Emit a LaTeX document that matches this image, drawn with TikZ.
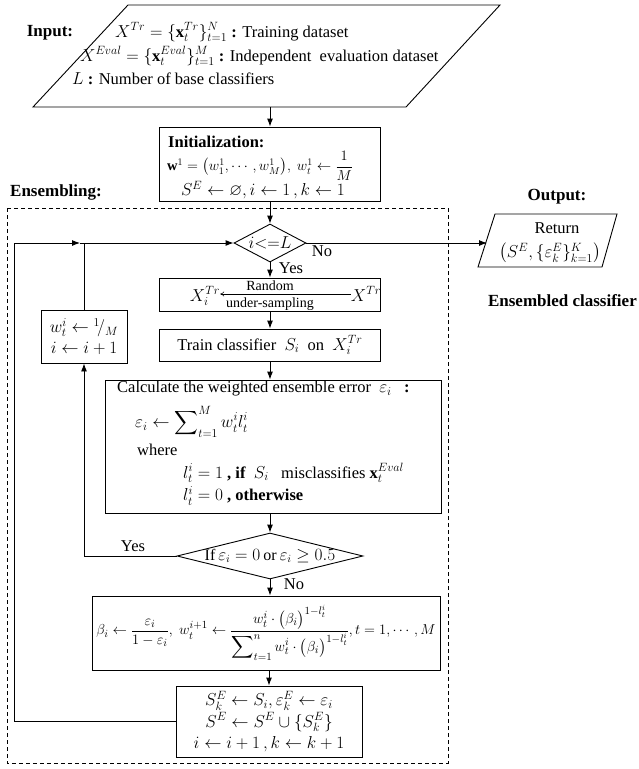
\documentclass[tikz,border=0pt]{standalone}
\usepackage{amsmath,amssymb}
\usepackage{graphicx}
\usepackage{fontspec}
\setmainfont{Liberation Serif}
\usetikzlibrary{arrows.meta,shapes.geometric,calc}
\tikzset{
  boxnode/.style={draw, line width=0.9pt, rectangle, inner sep=0pt},
  dia/.style={draw, line width=0.9pt, diamond, inner sep=0pt},
  conn/.style={line width=0.9pt},
  arr/.style={line width=0.9pt, -{Latex[length=8pt,width=6pt]}},
  txt/.style={inner sep=0pt, font=\fontsize{16.5}{20}\selectfont},
  smalltxt/.style={inner sep=0pt, font=\fontsize{14}{16}\selectfont},
  lbl/.style={inner sep=0pt, font=\bfseries\fontsize{17}{20}\selectfont},
}
\begin{document}
\begin{tikzpicture}[x=1pt,y=-1pt]
\useasboundingbox (0,0) rectangle (638,769);

% ---------- input parallelogram ----------
\coordinate (inTL) at (128,5);
\coordinate (inTR) at (500,5);
\coordinate (inBR) at (406,107);
\coordinate (inBL) at (33,107);
\draw[conn] (inTL) -- (inTR) -- (inBR) -- (inBL) -- cycle;
\coordinate (inBot) at (270,107);
\node[lbl] (inputlbl) at (50,33) {Input:};
\node[txt, anchor=west] (in1) at (115,32) {$X^{Tr}=\{\mathbf{x}_t^{Tr}\}_{t=1}^{N}$ \textbf{:} Training dataset};
\node[txt, anchor=west] (in2) at (80,56) {$X^{Eval}=\{\mathbf{x}_t^{Eval}\}_{t=1}^{M}$ \textbf{:} Independent\ \ evaluation dataset};
\node[txt, anchor=west] (in3) at (72,79) {$L$ \textbf{:} Number of base classifiers};

% ---------- initialization ----------
\node[boxnode, minimum width=221pt, minimum height=74pt] (init) at (270,164) {};
\node[txt, anchor=west, font=\bfseries\fontsize{16.5}{20}\selectfont] (initlbl) at (168,142) {Initialization:};
\node[txt, anchor=west, font=\fontsize{14.5}{18}\selectfont] (init2) at (167,166) {$\mathbf{w}^1=\bigl(w_1^1,\cdots,w_M^1\bigr),\ w_t^1\leftarrow\dfrac{1}{M}$};
\node[txt] (init3) at (263,190) {$S^E\leftarrow\varnothing, i\leftarrow 1\,, k\leftarrow 1$};

% ---------- labels ----------
\node[lbl] (enslbl) at (56,192) {Ensembling:};
\node[lbl] (outlbl) at (557,197) {Output:};
\node[lbl, anchor=east] (enscls) at (637,301) {Ensembled classifier};

% ---------- dashed frame ----------
\draw[line width=0.7pt, dash pattern=on 4pt off 3pt] (7,208) rectangle (448,763);

% ---------- diamond 1 ----------
\node[dia, minimum width=72pt, minimum height=38pt] (d1) at (270,243) {};
\node[txt] (d1t) at (d1) {$i{<=}L$};
\node[txt] (no1) at (322,251) {No};
\node[txt] (yes1) at (291,268) {Yes};

% ---------- output parallelogram ----------
\coordinate (oTL) at (495,214);
\coordinate (oTR) at (617,214);
\coordinate (oBR) at (602,267);
\coordinate (oBL) at (478,267);
\draw[conn] (oTL) -- (oTR) -- (oBR) -- (oBL) -- cycle;
\coordinate (outL) at (487,243);
\node[txt] (ret) at (557,228) {Return};
\node[txt] (retf) at (550,253) {$\left(S^E,\{\varepsilon_k^E\}_{k=1}^{K}\right)$};

% ---------- random under-sampling ----------
\node[boxnode, minimum width=221pt, minimum height=33pt] (rand) at (270,294.5) {};
\node[txt] (rxi) at (205,296) {$X_i^{Tr}$};
\node[txt] (rx) at (366,294) {$X^{Tr}$};
\draw[line width=0.6pt, -{To[length=4pt,width=5pt]}] (rx.west) -- (rxi.east |- rx.west);
\node[smalltxt] (rtop) at (270,286) {Random};
\node[smalltxt] (rbot) at (270,304) {under-sampling};

% ---------- train ----------
\node[boxnode, minimum width=221pt, minimum height=32pt] (train) at (270,345) {};
\node[txt] (traint) at (train) {Train classifier\ \ $S_i$\ \ on\ \ $X_i^{Tr}$};

% ---------- left box ----------
\node[boxnode, minimum width=86pt, minimum height=53pt] (lbox) at (84,336.5) {};
\node[txt, align=center] (lboxt) at (lbox) {$w_t^i\leftarrow{}^1\!/_M$\\[1pt]$i\leftarrow i+1$};

% ---------- calculate ----------
\node[boxnode, minimum width=336pt, minimum height=133pt] (calc) at (273,446.5) {};
\node[txt, anchor=west] (c1) at (117,389) {Calculate the weighted ensemble error\ \ $\varepsilon_i$\ \ \ \textbf{:}};
\node[txt, anchor=west] (c2) at (135,422) {$\varepsilon_i\leftarrow\displaystyle\sum\nolimits_{t=1}^{M}w_t^i l_t^i$};
\node[txt, anchor=west] (c3) at (137,450) {where};
\node[txt, anchor=west] (c4) at (183,473) {$l_t^i=1$\ \textbf{, if}\ \ $S_i$\ \ \ misclassifies\ $\mathbf{x}_t^{Eval}$};
\node[txt, anchor=west] (c5) at (183,496) {$l_t^i=0$\ \textbf{, otherwise}};

% ---------- diamond 2 ----------
\node[dia, minimum width=186pt, minimum height=46pt] (d2) at (270,556) {};
\node[txt, font=\fontsize{16}{19}\selectfont] (d2t) at (d2) {$\mathrm{If}\,\varepsilon_i=0\,\mathrm{or}\,\varepsilon_i\geq0.5$};
\node[txt] (yes2) at (133,546) {Yes};
\node[txt] (no2) at (294,584) {No};

% ---------- beta ----------
\node[boxnode, minimum width=348pt, minimum height=74pt] (beta) at (266,633) {};
\node[txt, font=\fontsize{15.5}{19}\selectfont] (betat) at (beta) {$\beta_i\leftarrow\dfrac{\varepsilon_i}{1-\varepsilon_i},\ w_t^{i+1}\leftarrow\dfrac{w_t^i\cdot\bigl(\beta_i\bigr)^{1-l_t^i}}{\displaystyle\sum\nolimits_{t=1}^{n}w_t^i\cdot\bigl(\beta_i\bigr)^{1-l_t^i}},t=1,\cdots,M$};

% ---------- final ----------
\node[boxnode, minimum width=186pt, minimum height=71pt] (final) at (269,721.5) {};
\node[txt, align=center, font=\fontsize{16.5}{21.5}\selectfont] (finalt) at (final) {$S_k^E\leftarrow S_i,\varepsilon_k^E\leftarrow\varepsilon_i$\\$S^E\leftarrow S^E\cup\{S_k^E\}$\\$i\leftarrow i+1\,, k\leftarrow k+1$};

% ---------- connectors ----------
\draw[arr] (inBot) -- (init.north);
\draw[arr] (init.south) -- (d1.north);
\draw[arr] (d1.east) -- (outL);
\draw[arr] (d1.south) -- (rand.north);
\draw[arr] (rand.south) -- (train.north);
\draw[arr] (train.south) -- (train.south |- calc.north);
\draw[arr] (d2.north |- calc.south) -- (d2.north);
\draw[arr] (d2.south) -- (d2.south |- beta.north);
\draw[arr] (final.north |- beta.south) -- (final.north);
\draw[arr] (d2.west) -| (lbox.south);
\draw[conn] (lbox.north) -- (lbox.north |- d1.west);
\coordinate (loopTL) at (14,243);
\coordinate (loopMid) at (80,243);
\draw[conn] (final.west) -- (final.west -| loopTL) -- (loopTL);
\draw[arr] (loopTL) -- (loopMid);
\draw[arr] (loopMid) -- (d1.west);
\end{tikzpicture}
\end{document}
